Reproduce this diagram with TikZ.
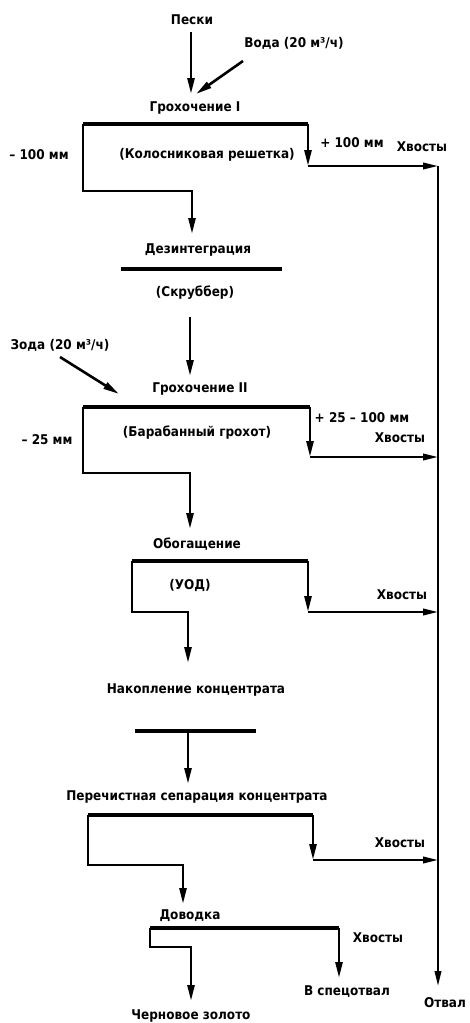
\documentclass[tikz,border=0pt]{standalone}
\usepackage{fontspec}
\setmainfont{DejaVu Sans Condensed}
\usetikzlibrary{arrows.meta}
\begin{document}
\begin{tikzpicture}[x=1pt,y=-1pt,
  lbl/.style={font=\bfseries\fontsize{13.4}{15}\selectfont, inner sep=0pt, anchor=center},
  bar/.style={line width=3.2pt},
  flow/.style={line width=2.6pt, -{Triangle[length=16pt,width=7pt]}},
  thin/.style={line width=2.2pt, -{Triangle[length=15pt,width=6.5pt]}}]
\useasboundingbox (0,0) rectangle (470,1023);
% texts
\node[lbl] (peski) at (192,20) {Пески};
\node[lbl] (voda1) at (294,43) {Вода (20 м³/ч)};
\node[lbl] (gr1) at (195,108) {Грохочение I};
\node[lbl] (m100) at (39,155) {– 100 мм};
\node[lbl] (kol) at (207,155) {(Колосниковая решетка)};
\node[lbl] (p100) at (352,143) {+ 100 мм};
\node[lbl] (hv1) at (422,147) {Хвосты};
\node[lbl] (dez) at (198,250) {Дезинтеграция};
\node[lbl] (skr) at (195,293) {(Скруббер)};
\node[lbl] (voda2) at (60,345) {Зода (20 м³/ч)};
\node[lbl] (gr2) at (200,389) {Грохочение II};
\node[lbl] (p25) at (362,418) {+ 25 – 100 мм};
\node[lbl] (bar) at (197,433) {(Барабанный грохот)};
\node[lbl] (m25) at (47,440) {– 25 мм};
\node[lbl] (hv2) at (400,438) {Хвосты};
\node[lbl] (obo) at (197,544) {Обогащение};
\node[lbl] (uod) at (190,585) {(УОД)};
\node[lbl] (hv3) at (402,595) {Хвосты};
\node[lbl] (nak) at (196,690) {Накопление концентрата};
\node[lbl] (per) at (197,797) {Перечистная сепарация концентрата};
\node[lbl] (hv4) at (400,843) {Хвосты};
\node[lbl] (dov) at (190,916) {Доводка};
\node[lbl] (hv5) at (378,938) {Хвосты};
\node[lbl] (spec) at (347,992) {В спецотвал};
\node[lbl] (cher) at (191,1016) {Черновое золото};
\node[lbl] (otv) at (445,1003) {Отвал};
% coordinates
\coordinate (a1) at (191,32); \coordinate (a1e) at (191,94);
\coordinate (w1) at (243,61); \coordinate (w1e) at (196,94);
\coordinate (g1l) at (83,124); \coordinate (g1r) at (308,124);
\coordinate (g1rd) at (308,166); \coordinate (m1) at (438,166);
\coordinate (g1ld) at (83,191); \coordinate (g1lm) at (192,191); \coordinate (g1le) at (192,234);
\coordinate (dzl) at (121,269); \coordinate (dzr) at (282,269);
\coordinate (s1) at (190,317); \coordinate (s1e) at (190,376);
\coordinate (w2) at (60,357); \coordinate (w2e) at (119,394);
\coordinate (g2l) at (83,407); \coordinate (g2r) at (310,407);
\coordinate (g2rd) at (310,457); \coordinate (m2) at (438,457);
\coordinate (g2ld) at (83,473); \coordinate (g2lm) at (190,473); \coordinate (g2le) at (190,529);
\coordinate (o3l) at (132,561); \coordinate (o3r) at (308,561);
\coordinate (o3rd) at (308,612); \coordinate (m3) at (438,612);
\coordinate (o3ld) at (132,612); \coordinate (o3lm) at (188,612); \coordinate (o3le) at (188,663);
\coordinate (nkl) at (135,731); \coordinate (nkr) at (256,731);
\coordinate (nk) at (188,731); \coordinate (nke) at (188,784);
\coordinate (p4l) at (88,815); \coordinate (p4r) at (313,815);
\coordinate (p4rd) at (313,860); \coordinate (m4) at (438,860);
\coordinate (p4ld) at (88,865); \coordinate (p4lm) at (183,865); \coordinate (p4le) at (183,904);
\coordinate (d5l) at (150,928); \coordinate (d5r) at (339,928);
\coordinate (d5re) at (339,978);
\coordinate (d5ld) at (150,947); \coordinate (d5lm) at (191,947); \coordinate (d5le) at (191,1001);
\coordinate (mend) at (438,986);
% connectors
\draw[flow] (a1) -- (a1e);
\draw[flow] (w1) -- (w1e);
\draw[bar] (g1l) -- (g1r);
\draw[flow] (g1r) -- (g1rd);
\draw[thin] (g1rd) -- (m1);
\draw[flow] (g1l) -- (g1ld) -- (g1lm) -- (g1le);
\draw[bar] (dzl) -- (dzr);
\draw[flow] (s1) -- (s1e);
\draw[flow] (w2) -- (w2e);
\draw[bar] (g2l) -- (g2r);
\draw[flow] (g2r) -- (g2rd);
\draw[thin] (g2rd) -- (m2);
\draw[flow] (g2l) -- (g2ld) -- (g2lm) -- (g2le);
\draw[bar] (o3l) -- (o3r);
\draw[flow] (o3r) -- (o3rd);
\draw[thin] (o3rd) -- (m3);
\draw[flow] (o3l) -- (o3ld) -- (o3lm) -- (o3le);
\draw[bar] (nkl) -- (nkr);
\draw[flow] (nk) -- (nke);
\draw[bar] (p4l) -- (p4r);
\draw[flow] (p4r) -- (p4rd);
\draw[thin] (p4rd) -- (m4);
\draw[flow] (p4l) -- (p4ld) -- (p4lm) -- (p4le);
\draw[bar] (d5l) -- (d5r);
\draw[flow] (d5r) -- (d5re);
\draw[flow] (d5l) -- (d5ld) -- (d5lm) -- (d5le);
\draw[thin] (m1) -- (mend);
\end{tikzpicture}
\end{document}
